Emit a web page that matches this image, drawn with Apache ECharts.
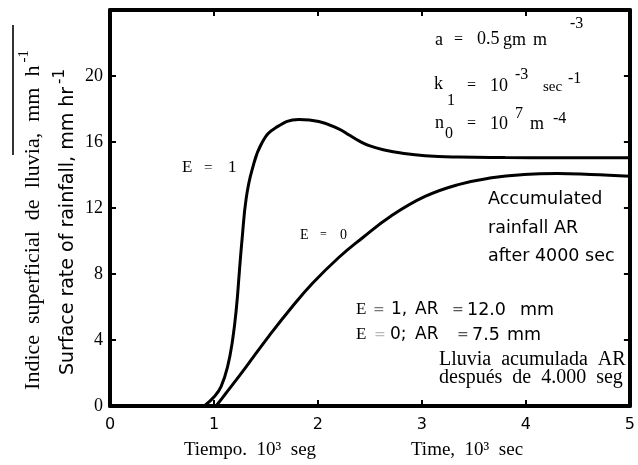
<!DOCTYPE html>
<html>
<head>
<meta charset="utf-8">
<script src="https://cdn.jsdelivr.net/npm/echarts@6/dist/echarts.min.js"></script>
<style>html,body{margin:0;padding:0;background:#fff}#c{width:638px;height:465px}</style>
</head>
<body>
<div id="c"></div>
<script>
// Data (time in 10^3 s, rate in mm/hr)
var xTicks = ['0', '1', '2', '3', '4', '5'];
var yTicks = ['0', '4', '8', '12', '16', '20'];
var e1Time = [0.907, 1.004, 1.068, 1.131, 1.179, 1.217, 1.243, 1.27, 1.31, 1.367, 1.463, 1.597, 1.816, 2.008, 2.199, 2.3, 2.39, 2.5, 2.65, 2.8, 3.03, 3.35, 3.8, 4.3, 5.0];
var e1Rate = [0, 0.57, 1.17, 2.39, 4.0, 6.03, 8.06, 10.1, 12.6, 14.33, 15.97, 16.88, 17.36, 17.24, 16.8, 16.42, 16.08, 15.76, 15.5, 15.33, 15.17, 15.09, 15.06, 15.05, 15.04];
var e0Time = [1.02, 1.1, 1.3, 1.53, 1.75, 1.95, 2.2, 2.42, 2.7, 3.03, 3.35, 3.67, 3.98, 4.3, 4.62, 5.0];
var e0Rate = [0, 0.65, 2.3, 4.25, 6.0, 7.45, 9.0, 10.15, 11.5, 12.7, 13.42, 13.83, 14.03, 14.09, 14.03, 13.92];

function pairs(xs, ys) { return xs.map(function (x, i) { return [x, ys[i]]; }); }

var chart = echarts.init(document.getElementById('c'));
var serif = '"Liberation Serif", "DejaVu Serif", serif';
var sans = '"DejaVu Sans", "Liberation Sans", sans-serif';
var axisLine = { show: true, onZero: false, lineStyle: { color: '#000', width: 4 } };
var tick = { show: true, inside: true, length: 6, lineStyle: { color: '#000', width: 2 } };

function t(text, x, y, size, family, align, color) {
  return { type: 'text', x: x, y: y, style: { text: text, align: align || 'left', verticalAlign: 'middle',
    fontFamily: family || serif, fontSize: size, fill: color || '#000' } };
}

var g = [
  { type: 'line', shape: { x1: 13, y1: 25, x2: 13, y2: 155 }, style: { stroke: '#333', lineWidth: 2 } },
  { type: 'text', x: 68, y: 222, rotation: Math.PI / 2, style: {
      text: '{t|Surface rate of rainfall, mm hr}{s|-1}', align: 'center', verticalAlign: 'middle',
      rich: { t: { fontFamily: sans, fontSize: 19, fill: '#000' },
              s: { fontFamily: sans, fontSize: 15, fill: '#000', padding: [0, 0, 16, 3] } } } },
  { type: 'text', x: 33, y: 220, rotation: Math.PI / 2, style: {
      text: '{t|Indice  superficial  de  lluvia,  mm  h}{s|-1}', align: 'center', verticalAlign: 'middle',
      rich: { t: { fontFamily: serif, fontSize: 22, fill: '#000' },
              s: { fontFamily: serif, fontSize: 15, fill: '#000', padding: [0, 0, 18, 3] } } } },
  t('Tiempo.  10³  seg', 250, 450, 19, serif, 'center'),
  t('Time,  10³  sec', 467, 450, 19, serif, 'center'),
  // curve labels
  t('E', 182, 168, 17), t('=', 204, 168, 15), t('1', 228, 168, 17),
  t('E', 300, 235, 14), t('=', 320, 235, 12), t('0', 340, 235, 14),
  // parameter block
  t('a', 435, 40, 18), t('=', 454, 40, 16), t('0.5', 477, 39, 18), t('gm', 503, 40, 18), t('m', 533, 40, 18),
  t('-3', 570, 24, 16),
  t('k', 434, 84, 18), t('1', 447, 101, 16), t('=', 467, 86, 16), t('10', 490, 86, 18), t('-3', 515, 75, 16),
  t('sec', 543, 87, 15), t('-1', 568, 79, 16),
  t('n', 435, 123, 18), t('0', 445, 134, 16), t('=', 467, 124, 16), t('10', 490, 124, 18), t('7', 515, 114, 16),
  t('m', 530, 124, 18), t('-4', 553, 119, 16),
  // accumulated rainfall notes
  { type: 'text', x: 488, y: 228, style: { text: 'Accumulated\nrainfall AR\nafter 4000 sec', align: 'left', verticalAlign: 'middle',
      fontFamily: sans, fontSize: 17.5, lineHeight: 28.5, fill: '#000' } },
  t('E', 356, 310, 17, serif), t('=', 373, 310, 14, sans, 'left', '#777'), t('1,', 391, 310, 17, sans),
  t('AR', 415, 310, 17, sans), t('=', 452, 310, 14, sans, 'left', '#555'),
  t('12.0', 467, 310, 17.5, sans), t('mm', 520, 310, 17.5, sans),
  t('E', 356, 335, 17, serif), t('=', 374, 335, 14, sans, 'left', '#bbb'), t('0;', 390, 335, 17, sans),
  t('AR', 415, 335, 17, sans), t('=', 457, 335, 14, sans, 'left', '#555'),
  t('7.5', 472, 335, 17.5, sans), t('mm', 507, 335, 17.5, sans),
  { type: 'text', x: 439, y: 369, style: { text: 'Lluvia  acumulada  AR\ndespués  de  4.000  seg', align: 'left', verticalAlign: 'middle',
      fontFamily: serif, fontSize: 20, lineHeight: 18, fill: '#000' } }
];

chart.setOption({
  backgroundColor: '#fff',
  animation: false,
  grid: { left: 110, right: 5, top: 10, bottom: 59 },
  xAxis: [
    { type: 'value', min: 0, max: 5, interval: 1, position: 'bottom',
      axisLine: axisLine, axisTick: tick, splitLine: { show: false },
      axisLabel: { color: '#000', fontFamily: sans, fontSize: 16, margin: 11,
        formatter: function (v) { return xTicks[Math.round(v)]; } } },
    { type: 'value', min: 0, max: 5, interval: 1, position: 'top',
      axisLine: axisLine, axisTick: tick, splitLine: { show: false }, axisLabel: { show: false } }
  ],
  yAxis: [
    { type: 'value', min: 0, max: 24, interval: 4, position: 'left',
      axisLine: axisLine, axisTick: tick, splitLine: { show: false },
      axisLabel: { color: '#000', fontFamily: serif, fontSize: 18, margin: 7, showMaxLabel: false,
        formatter: function (v) { var i = Math.round(v / 4); return i < yTicks.length ? yTicks[i] : ''; } } },
    { type: 'value', min: 0, max: 24, interval: 4, position: 'right',
      axisLine: axisLine, axisTick: tick, splitLine: { show: false }, axisLabel: { show: false } }
  ],
  series: [
    { type: 'line', name: 'E = 1', data: pairs(e1Time, e1Rate), smooth: 0.45,
      showSymbol: false, lineStyle: { color: '#000', width: 3 } },
    { type: 'line', name: 'E = 0', data: pairs(e0Time, e0Rate), smooth: 0.45,
      showSymbol: false, lineStyle: { color: '#000', width: 3 } }
  ],
  graphic: g
});
</script>
</body>
</html>
